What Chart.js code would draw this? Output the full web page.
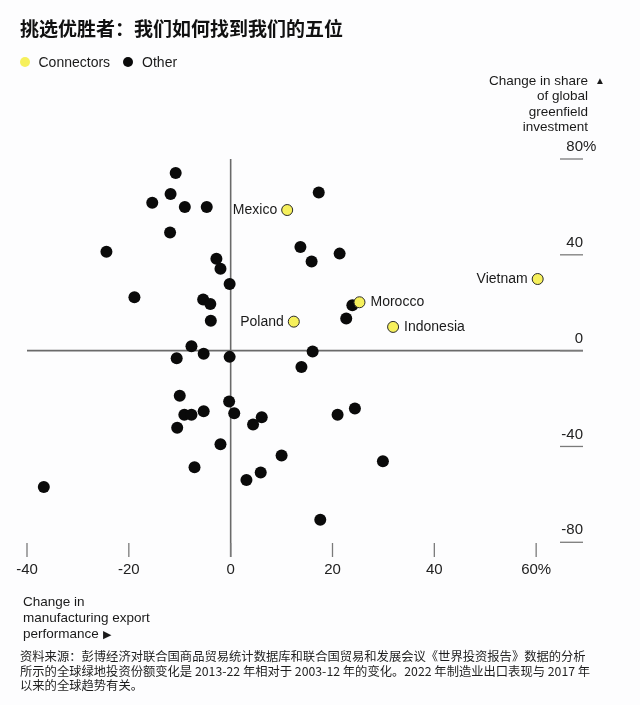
<!DOCTYPE html>
<html>
<head>
<meta charset="utf-8">
<script src="https://cdn.jsdelivr.net/npm/chart.js@4/dist/chart.umd.min.js"></script>
<style>
  body { margin: 0; background: #fdfdfe; width: 640px; height: 705px; overflow: hidden; position: relative;
         font-family: "Liberation Sans", Arial, sans-serif; color: #1a1a1a; }
  #graph { position: absolute; left: 0; top: 0; }
  .txt { position: absolute; white-space: nowrap; }
  .title { left: 20px; top: 16px; font: bold 19px "Noto Sans CJK SC", sans-serif; line-height: 24px; color: #111; }
  .legend { top: 53px; left: 19.5px; font-size: 14px; line-height: 18px; display: flex; align-items: center; }
  .legend .dot { display: block; width: 10px; height: 10px; border-radius: 50%; }
  .ytitle { right: 52px; top: 73px; font-size: 13.5px; line-height: 15.3px; text-align: right; }
  .ytitle .arrow { position: absolute; left: 100%; margin-left: 7px; top: 0; font-size: 10px; }
  .xtitle { left: 23px; top: 594px; font-size: 13.5px; line-height: 16px; }
  .xtitle .arrow { font-size: 11px; }
  .note { left: 20px; top: 649px; font: 12.3px "Noto Sans CJK SC", sans-serif; line-height: 14.5px; color: #1e1e1e; }
</style>
</head>
<body>
<canvas id="graph" width="640" height="705"></canvas>
<div class="txt title">挑选优胜者：我们如何找到我们的五位</div>
<div class="txt legend"><span class="dot" style="background:#f6f05c"></span><span style="margin-left:9px">Connectors</span><span class="dot" style="background:#0a0a0a;margin-left:12.5px"></span><span style="margin-left:9.5px">Other</span></div>
<div class="txt ytitle"><span style="position:relative">Change in share<span class="arrow">▲</span></span><br>of global<br>greenfield<br>investment</div>
<div class="txt xtitle">Change in<br>manufacturing export<br>performance <span class="arrow">▶</span></div>
<div class="txt note">资料来源：彭博经济对联合国商品贸易统计数据库和联合国贸易和发展会议《世界投资报告》数据的分析<br>所示的全球绿地投资份额变化是 2013-22 年相对于 2003-12 年的变化。2022 年制造业出口表现与 2017 年<br>以来的全球趋势有关。</div>
<script>
const xTicks = [-40, -20, 0, 20, 40, 60];
const xTickLabels = ['-40', '-20', '0', '20', '40', '60%'];
const yTicks = [80, 40, 0, -40, -80];
const yTickLabels = ['80%', '40', '0', '-40', '-80'];

const connectorNames = ['Mexico', 'Poland', 'Morocco', 'Indonesia', 'Vietnam'];
const connectorX = [11.1, 12.4, 25.3, 31.9, 60.3];
const connectorY = [58.7, 12.1, 20.2, 9.9, 29.9];

const otherX = [-10.8, -11.8, -15.4, -9.0, -4.7, -11.9, -24.4, -2.8, -2.0, -0.2,
  -18.9, -5.4, -4.0, -3.9, 17.3, 13.7, 15.9, 21.4, 23.9, 22.7,
  -7.7, -5.3, -10.6, -0.2, 16.1, 13.9, -10.0, -0.3, -9.1, -7.7,
  -5.3, 0.7, 4.4, 6.1, -10.5, 21.0, 24.4, -2.0, 10.0, -7.1,
  5.9, 3.1, -36.7, 17.6, 29.9];
const otherY = [74.2, 65.4, 61.7, 60.0, 60.0, 49.3, 41.3, 38.4, 34.2, 27.8,
  22.3, 21.3, 19.5, 12.5, 66.0, 43.3, 37.2, 40.5, 18.9, 13.4,
  1.8, -1.3, -3.2, -2.6, -0.4, -6.8, -18.8, -21.2, -26.8, -26.8,
  -25.3, -26.1, -30.8, -27.8, -32.2, -26.8, -24.2, -39.1, -43.8, -48.7,
  -50.9, -54.0, -56.9, -70.6, -46.2];

const leftLabeled = ['Mexico', 'Poland', 'Vietnam'];

const axesPlugin = {
  id: 'axes',
  beforeDatasetsDraw(chart) {
    const { ctx, chartArea, scales } = chart;
    const x = scales.x, y = scales.y;
    const x0 = x.getPixelForValue(0);
    const y0 = y.getPixelForValue(0);
    ctx.save();
    ctx.strokeStyle = '#6a6a6a';
    ctx.lineWidth = 1.6;
    ctx.beginPath();
    ctx.moveTo(chartArea.left, y0);
    ctx.lineTo(chartArea.right, y0);
    ctx.moveTo(x0, y.getPixelForValue(80));
    ctx.lineTo(x0, chartArea.bottom + 14);
    ctx.stroke();

    ctx.strokeStyle = '#7a7a7a';
    ctx.lineWidth = 1.3;
    ctx.fillStyle = '#222';
    ctx.font = '15px "Liberation Sans", Arial, sans-serif';
    ctx.textBaseline = 'middle';
    xTicks.forEach((v, i) => {
      const px = x.getPixelForValue(v);
      ctx.beginPath();
      ctx.moveTo(px, chartArea.bottom);
      ctx.lineTo(px, chartArea.bottom + 14);
      ctx.stroke();
      ctx.textAlign = 'center';
      ctx.fillText(xTickLabels[i], px, chartArea.bottom + 27);
    });
    yTicks.forEach((v, i) => {
      const py = y.getPixelForValue(v);
      ctx.beginPath();
      ctx.moveTo(chartArea.right - 23, py);
      ctx.lineTo(chartArea.right, py);
      ctx.stroke();
      const lab = yTickLabels[i];
      const num = lab.replace('%', '');
      ctx.textAlign = 'right';
      ctx.fillText(num, chartArea.right, py - 12);
      if (lab.endsWith('%')) {
        ctx.textAlign = 'left';
        ctx.fillText('%', chartArea.right, py - 12);
      }
    });
    ctx.restore();
  },
  afterDatasetsDraw(chart) {
    const { ctx } = chart;
    const meta = chart.getDatasetMeta(0);
    ctx.save();
    ctx.fillStyle = '#1a1a1a';
    ctx.font = '14px "Liberation Sans", Arial, sans-serif';
    ctx.textBaseline = 'middle';
    meta.data.forEach((pt, i) => {
      const name = connectorNames[i];
      if (leftLabeled.includes(name)) {
        ctx.textAlign = 'right';
        ctx.fillText(name, pt.x - 10, pt.y);
      } else {
        ctx.textAlign = 'left';
        ctx.fillText(name, pt.x + 11, pt.y);
      }
    });
    ctx.restore();
  }
};

new Chart(document.getElementById('graph').getContext('2d'), {
  type: 'scatter',
  data: {
    datasets: [
      {
        label: 'Connectors',
        data: connectorX.map((v, i) => ({ x: v, y: connectorY[i] })),
        backgroundColor: '#f6f05c',
        borderColor: '#2a2a2a',
        borderWidth: 1,
        pointRadius: 5.5,
      },
      {
        label: 'Other',
        data: otherX.map((v, i) => ({ x: v, y: otherY[i] })),
        backgroundColor: '#0a0a0a',
        borderColor: '#0a0a0a',
        borderWidth: 0,
        pointRadius: 6,
      },
    ],
  },
  options: {
    responsive: false,
    animation: false,
    clip: false,
    layout: { padding: { left: 27, right: 57, top: 159, bottom: 162 } },
    plugins: { legend: { display: false }, tooltip: { enabled: false } },
    scales: {
      x: { type: 'linear', min: -40, max: 69.2, display: false },
      y: { type: 'linear', min: -80.3, max: 80, display: false },
    },
  },
  plugins: [axesPlugin],
});
</script>
</body>
</html>
